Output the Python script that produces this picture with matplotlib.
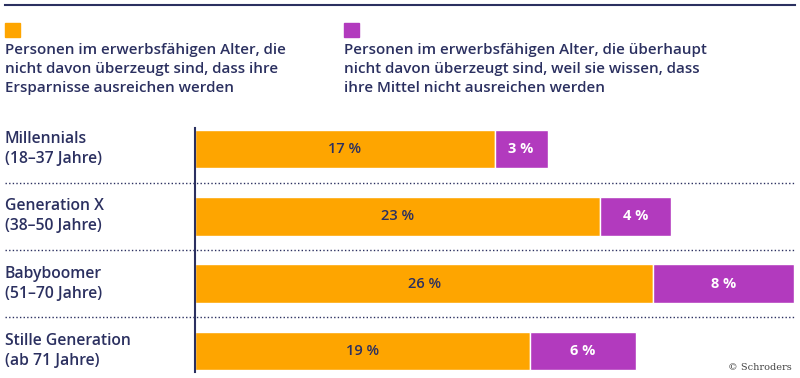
import numpy as np
import matplotlib.pyplot as plt
from matplotlib.lines import Line2D
from matplotlib.patches import Rectangle
from matplotlib.transforms import blended_transform_factory

kategorien = ["Millennials\n(18–37 Jahre)", "Generation X\n(38–50 Jahre)",
              "Babyboomer\n(51–70 Jahre)", "Stille Generation\n(ab 71 Jahre)"]
nicht_ueberzeugt = [17, 23, 26, 19]
ueberhaupt_nicht = [3, 4, 8, 6]
legende = ["Personen im erwerbsfähigen Alter, die\nnicht davon überzeugt sind, dass ihre\nErsparnisse ausreichen werden",
           "Personen im erwerbsfähigen Alter, die überhaupt\nnicht davon überzeugt sind, weil sie wissen, dass\nihre Mittel nicht ausreichen werden"]

ORANGE = "#FEA500"
LILA = "#B23ABE"
NAVY = "#2B3060"
W, H = 800, 378

plt.rcParams['font.family'] = ['Open Sans', 'DejaVu Sans']

fig = plt.figure(figsize=(8, 3.78), dpi=100)
ax = fig.add_axes([195 / W, 1 - 372 / H, 605 / W, 244 / H])

ys = np.arange(len(kategorien))
ax.barh(ys, nicht_ueberzeugt, height=0.57, color=ORANGE, edgecolor="white", linewidth=1)
ax.barh(ys, ueberhaupt_nicht, left=nicht_ueberzeugt, height=0.57, color=LILA,
        edgecolor="white", linewidth=1)
ax.set_xlim(0, 605 / 17.63)
ax.set_ylim(3.315, -0.315)
for s in ["top", "right", "bottom"]:
    ax.spines[s].set_visible(False)
ax.spines["left"].set_color(NAVY)
ax.spines["left"].set_linewidth(1.5)
ax.set_xticks([])
ax.set_yticks([])

for y, a, b in zip(ys, nicht_ueberzeugt, ueberhaupt_nicht):
    ax.text(a / 2, y, f"{a} %", ha="center", va="center", color=NAVY,
            fontsize=10.5, fontweight="semibold")
    ax.text(a + b / 2, y, f"{b} %", ha="center", va="center", color="white",
            fontsize=10.5, fontweight="bold")

# Kategorien links, Trennlinien über die volle Breite
tr = blended_transform_factory(fig.transFigure, ax.transData)
for y, lab in zip(ys, kategorien):
    ax.text(5 / W, y, lab, transform=tr, ha="left", va="center", color=NAVY,
            fontsize=11.3, fontweight="semibold", linespacing=1.35)
for y in ys[:-1] + 0.5:
    ax.add_line(Line2D([5 / W, 795 / W], [y, y], transform=tr, clip_on=False,
                       color=NAVY, linewidth=1, linestyle=(0, (1, 1.6))))

# Linie oben und Legende
fig.add_artist(Line2D([5 / W, 795 / W], [1 - 5 / H] * 2, color=NAVY, linewidth=1.5))
for x0, col, txt in [(5, ORANGE, legende[0]), (344, LILA, legende[1])]:
    fig.add_artist(Rectangle((x0 / W, 1 - 37 / H), 15 / W, 14 / H, color=col,
                             transform=fig.transFigure))
    fig.text(x0 / W, 1 - 43 / H, txt, ha="left", va="top", color=NAVY,
             fontsize=10.9, fontweight="semibold", linespacing=1.45)

fig.text(792 / W, 1 - 368 / H, "© Schroders", ha="right", va="center",
         color="#444444", fontsize=7, family=["DejaVu Serif"])

fig.savefig("out.png", dpi=100)
